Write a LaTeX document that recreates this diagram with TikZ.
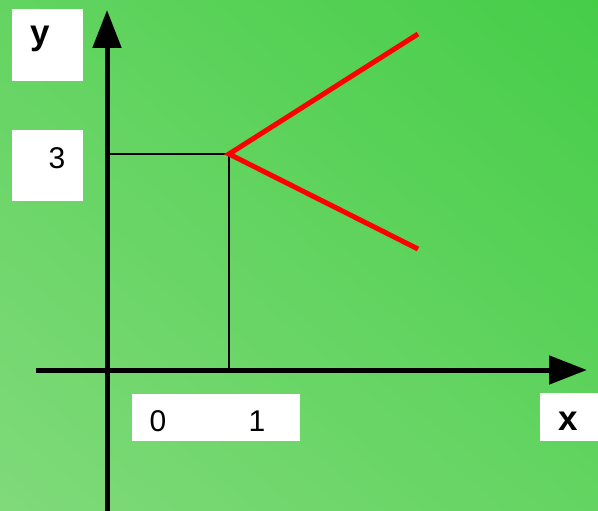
\documentclass[tikz,border=0pt]{standalone}
\usepackage{fontspec}
\setmainfont{Liberation Sans}
\usetikzlibrary{arrows.meta,shadings}
\definecolor{bgtr}{RGB}{70,205,72}
\definecolor{bgbl}{RGB}{128,218,122}
\definecolor{bgmid}{RGB}{99,212,97}
\definecolor{redline}{RGB}{255,0,0}
\tikzset{
  axis/.style={line width=5pt,-{Triangle[length=38pt,width=28pt]}},
  guide/.style={line width=1.3pt},
  graph/.style={draw=redline,line width=5pt,line cap=butt,line join=miter},
  labelbox/.style={fill=white,draw=none,inner sep=0pt,anchor=north west},
  lbl/.style={inner sep=0pt,font=\fontsize{30}{30}\selectfont},
  blbl/.style={inner sep=0pt,font=\fontsize{35}{35}\selectfont\bfseries}
}
\begin{document}
\begin{tikzpicture}[x=1pt,y=-1pt]
\useasboundingbox (0,0) rectangle (598,511);
\shade[lower left=bgbl,upper right=bgtr,lower right=bgmid,upper left=bgmid] (0,0) rectangle (598,511);
% boxes
\node[labelbox,minimum width=71pt,minimum height=72pt] (ybox) at (12,9) {};
\node[labelbox,minimum width=71pt,minimum height=71pt] (tbox) at (12,130) {};
\node[labelbox,minimum width=168pt,minimum height=47pt] (obox) at (132,394) {};
\node[labelbox,minimum width=58pt,minimum height=48pt] (xbox) at (540,393) {};
% texts
\node[blbl] (ylab) at (40,39) {y};
\node[lbl] (three) at (57,158) {3};
\node[lbl] (zero) at (158,421) {0};
\node[lbl] (one) at (257,421) {1};
\node[blbl] (xlab) at (568,421) {x};
% coordinates
\coordinate (ybot) at (107,511);
\coordinate (ytop) at (107,10);
\coordinate (xl) at (36,370);
\coordinate (xr) at (587,370);
\coordinate (P) at (229,154);
\coordinate (Y3) at (107,154);
\coordinate (F) at (229,370);
\coordinate (A) at (418,34);
\coordinate (B) at (418,249);
% guides
\draw[guide] (Y3) -- (P) -- (F);
% axes
\draw[axis] (ybot) -- (ytop);
\draw[axis] (xl) -- (xr);
% graph
\draw[graph] (A) -- (P) -- (B);
\end{tikzpicture}
\end{document}
